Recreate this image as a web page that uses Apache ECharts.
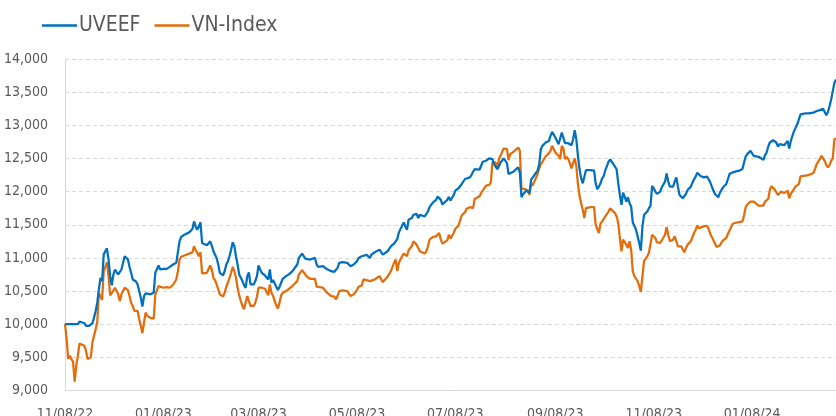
<!DOCTYPE html>
<html>
<head>
<meta charset="utf-8">
<script src="https://cdn.jsdelivr.net/npm/echarts@6/dist/echarts.min.js"></script>
<style>
html,body{margin:0;padding:0;background:#fff;}
#chart{width:836px;height:416px;}
</style>
</head>
<body>
<div id="chart"></div>
<script>
const seriesNames = ['UVEEF', 'VN-Index'];

const dates = [
'2022-11-08','2022-11-09','2022-11-10','2022-11-11','2022-11-12','2022-11-13','2022-11-14','2022-11-15','2022-11-16','2022-11-17','2022-11-18','2022-11-20','2022-11-21','2022-11-22','2022-11-23','2022-11-24','2022-11-25','2022-11-26','2022-11-27','2022-11-28','2022-11-29','2022-11-30',
'2022-12-01','2022-12-02','2022-12-03','2022-12-04','2022-12-05','2022-12-06','2022-12-07','2022-12-08','2022-12-09','2022-12-10','2022-12-11','2022-12-12','2022-12-13','2022-12-14','2022-12-15','2022-12-16','2022-12-17','2022-12-18','2022-12-19','2022-12-20','2022-12-21','2022-12-22','2022-12-23','2022-12-24','2022-12-25','2022-12-26','2022-12-27','2022-12-28','2022-12-29','2022-12-31',
'2023-01-01','2023-01-02','2023-01-03','2023-01-04','2023-01-05','2023-01-06','2023-01-08','2023-01-09','2023-01-10','2023-01-12','2023-01-14','2023-01-16','2023-01-17','2023-01-18','2023-01-19','2023-01-21','2023-01-24','2023-01-25','2023-01-26','2023-01-27','2023-01-28','2023-01-29','2023-01-30','2023-01-31',
'2023-02-01','2023-02-02','2023-02-04','2023-02-05','2023-02-06','2023-02-07','2023-02-08','2023-02-09','2023-02-10','2023-02-11','2023-02-12','2023-02-14','2023-02-15','2023-02-16','2023-02-17','2023-02-18','2023-02-19','2023-02-20','2023-02-21','2023-02-22','2023-02-23','2023-02-24','2023-02-25','2023-02-26','2023-02-27','2023-02-28',
'2023-03-01','2023-03-02','2023-03-03','2023-03-04','2023-03-05','2023-03-06','2023-03-07','2023-03-08','2023-03-09','2023-03-10','2023-03-11','2023-03-12','2023-03-13','2023-03-14','2023-03-15','2023-03-16','2023-03-17','2023-03-18','2023-03-19','2023-03-20','2023-03-21','2023-03-22','2023-03-23','2023-03-25','2023-03-27','2023-03-29',
'2023-04-01','2023-04-02','2023-04-04','2023-04-06','2023-04-07','2023-04-09','2023-04-10','2023-04-12','2023-04-13','2023-04-14','2023-04-15','2023-04-17','2023-04-19','2023-04-20','2023-04-22','2023-04-24','2023-04-25','2023-04-26','2023-04-27','2023-04-29',
'2023-05-02','2023-05-04','2023-05-05','2023-05-06','2023-05-08','2023-05-09','2023-05-11','2023-05-12','2023-05-14','2023-05-15','2023-05-16','2023-05-17','2023-05-19','2023-05-22','2023-05-23','2023-05-24','2023-05-25','2023-05-27','2023-05-29','2023-05-31',
'2023-06-01','2023-06-02','2023-06-03','2023-06-04','2023-06-05','2023-06-06','2023-06-07','2023-06-08','2023-06-09','2023-06-11','2023-06-12','2023-06-14','2023-06-15','2023-06-16','2023-06-17','2023-06-19','2023-06-20','2023-06-21','2023-06-22','2023-06-24','2023-06-26','2023-06-27','2023-06-28','2023-06-29','2023-06-30',
'2023-07-01','2023-07-03','2023-07-04','2023-07-05','2023-07-07','2023-07-08','2023-07-10','2023-07-11','2023-07-12','2023-07-14','2023-07-15','2023-07-17','2023-07-18','2023-07-19','2023-07-20','2023-07-21','2023-07-23','2023-07-24','2023-07-25','2023-07-26','2023-07-27','2023-07-28','2023-07-29','2023-07-30','2023-07-31',
'2023-08-01','2023-08-02','2023-08-03','2023-08-04','2023-08-05','2023-08-06','2023-08-07','2023-08-08','2023-08-09','2023-08-10','2023-08-11','2023-08-13','2023-08-14','2023-08-16','2023-08-17','2023-08-18','2023-08-19','2023-08-20','2023-08-21','2023-08-22','2023-08-23','2023-08-24','2023-08-25','2023-08-26','2023-08-28','2023-08-29','2023-08-30','2023-08-31',
'2023-09-01','2023-09-02','2023-09-04','2023-09-05','2023-09-06','2023-09-07','2023-09-08','2023-09-10','2023-09-11','2023-09-12','2023-09-13','2023-09-14','2023-09-15','2023-09-16','2023-09-17','2023-09-18','2023-09-19','2023-09-20','2023-09-21','2023-09-22','2023-09-23','2023-09-24','2023-09-25','2023-09-26','2023-09-27','2023-09-28','2023-09-30',
'2023-10-02','2023-10-03','2023-10-04','2023-10-05','2023-10-06','2023-10-07','2023-10-08','2023-10-09','2023-10-11','2023-10-12','2023-10-13','2023-10-15','2023-10-16','2023-10-17','2023-10-18','2023-10-19','2023-10-20','2023-10-21','2023-10-22','2023-10-23','2023-10-24','2023-10-25','2023-10-26','2023-10-27','2023-10-28','2023-10-29','2023-10-30','2023-10-31',
'2023-11-01','2023-11-02','2023-11-03','2023-11-04','2023-11-05','2023-11-06','2023-11-07','2023-11-08','2023-11-09','2023-11-10','2023-11-12','2023-11-13','2023-11-15','2023-11-16','2023-11-17','2023-11-18','2023-11-19','2023-11-20','2023-11-21','2023-11-22','2023-11-23','2023-11-24','2023-11-25','2023-11-26','2023-11-27','2023-11-28','2023-11-29','2023-11-30',
'2023-12-01','2023-12-02','2023-12-03','2023-12-04','2023-12-05','2023-12-06','2023-12-07','2023-12-09','2023-12-10','2023-12-11','2023-12-12','2023-12-13','2023-12-15','2023-12-16','2023-12-17','2023-12-18','2023-12-19','2023-12-20','2023-12-21','2023-12-22','2023-12-23','2023-12-24','2023-12-25','2023-12-26','2023-12-27','2023-12-28','2023-12-29','2023-12-31',
'2024-01-02','2024-01-03','2024-01-04','2024-01-05','2024-01-06','2024-01-07','2024-01-08','2024-01-09','2024-01-10','2024-01-12','2024-01-13','2024-01-15','2024-01-16','2024-01-17','2024-01-18','2024-01-19','2024-01-20','2024-01-21','2024-01-22','2024-01-23','2024-01-24','2024-01-25','2024-01-26','2024-01-28','2024-01-29','2024-01-30','2024-01-31',
'2024-02-01','2024-02-02','2024-02-03','2024-02-04','2024-02-05','2024-02-06','2024-02-07','2024-02-08','2024-02-10','2024-02-12','2024-02-15','2024-02-16','2024-02-17','2024-02-19','2024-02-20','2024-02-21','2024-02-22','2024-02-23','2024-02-24','2024-02-25','2024-02-26','2024-02-27','2024-02-28','2024-02-29'
];

const uveef = [
10000,10000,10000,10000,10000,10000,10000,10000,10000,10040,10035,10015,9975,9955,9975,10000,10015,10100,10200,10325,10525,10700,
10650,11050,11100,11145,10975,10725,10585,10750,10825,10785,10750,10725,10825,10850,11025,11035,10975,10865,10775,10675,10665,10645,10600,10500,10400,10265,10425,10465,10450,10450,
10460,10475,10775,10785,10885,10825,10835,10835,10835,10865,10900,10925,10950,11250,11315,11350,11385,11400,11435,11550,11475,11425,11400,11535,
11225,11210,11190,11180,11250,11185,11100,11075,11000,10900,10775,10735,10800,10900,10950,11025,11125,11235,11175,11025,10900,10750,10700,10650,10585,10550,
10725,10780,10600,10600,10600,10650,10725,10885,10825,10775,10765,10735,10715,10675,10825,10625,10665,10635,10565,10515,10565,10625,10685,10725,10755,10800,
10900,11000,11065,10990,10975,10975,11000,11000,10900,10865,10885,10875,10835,10815,10800,10790,10775,10850,10925,10935,
10925,10875,10850,10900,10950,11000,11025,11035,11045,11075,11000,11050,11085,11125,11125,11050,11045,11100,11175,11215,
11250,11285,11385,11415,11485,11535,11475,11425,11575,11600,11650,11665,11600,11650,11675,11625,11650,11700,11765,11835,11875,11925,11950,11875,11805,
11805,11875,11920,11865,11950,12015,12050,12065,12115,12190,12215,12215,12250,12300,12340,12350,12330,12390,12450,12430,12465,12490,12500,12500,12490,
12415,12390,12340,12380,12440,12465,12500,12505,12430,12265,12280,12300,12330,12365,12290,11915,11960,11990,12015,12040,11980,12180,12200,12250,12315,12415,12640,12690,
12715,12740,12765,12840,12900,12900,12815,12715,12740,12890,12865,12730,12740,12730,12715,12700,12790,12925,12790,12540,12340,12200,12125,12100,12325,12335,12325,
12315,12125,12035,12075,12125,12200,12235,12325,12450,12485,12465,12375,12335,12125,11950,11800,11985,11925,11850,11915,11825,11775,11535,11485,11425,11325,11225,11110,
11475,11650,11650,11700,11750,11785,12085,12050,12000,11965,12000,12065,12150,12275,12150,12075,12050,12075,12150,12215,12075,11950,11935,11900,11875,11965,12025,12000,
12075,12135,12185,12225,12285,12265,12235,12215,12200,12225,12190,12140,12015,11965,11940,11915,11980,12025,12065,12065,12115,12190,12265,12280,12290,12315,12305,12315,
12340,12440,12530,12565,12590,12615,12590,12540,12540,12525,12505,12480,12550,12590,12680,12740,12765,12775,12780,12740,12680,12715,12715,12700,12715,12765,12650,
12765,12840,12915,12965,13015,13040,13165,13180,13180,13180,13190,13215,13215,13230,13215,13250,13240,13150,13200,13290,13390,13515,13640,13690
];

const vnIndex = [
10000,9775,9475,9525,9475,9435,9135,9375,9525,9710,9700,9675,9600,9475,9465,9500,9725,9825,9925,10025,10475,10500,
10365,10800,10865,10935,10725,10435,10470,10500,10550,10525,10450,10350,10450,10500,10550,10535,10515,10425,10325,10275,10200,10215,10200,10075,9975,9865,10025,10175,10125,10095,
10085,10085,10450,10450,10575,10550,10550,10550,10560,10550,10595,10675,10800,10975,11015,11035,11065,11075,11085,11175,11115,11075,11025,11085,
10765,10775,10775,10785,10885,10825,10700,10665,10600,10525,10450,10415,10475,10565,10625,10700,10775,10865,10800,10700,10550,10435,10350,10275,10225,10215,
10425,10400,10275,10265,10275,10325,10415,10550,10550,10550,10550,10535,10525,10435,10600,10475,10425,10350,10285,10235,10325,10435,10475,10500,10535,10575,
10650,10750,10815,10750,10715,10685,10700,10685,10565,10550,10560,10550,10485,10475,10425,10415,10375,10425,10500,10510,
10500,10425,10400,10450,10515,10565,10585,10675,10665,10650,10650,10665,10675,10725,10700,10635,10645,10715,10800,10925,
10975,10800,10925,10975,11025,11065,11050,11025,11115,11175,11250,11200,11150,11100,11085,11065,11100,11175,11275,11315,11325,11350,11375,11275,11215,
11215,11265,11350,11290,11380,11440,11490,11565,11640,11690,11740,11765,11765,11750,11890,11900,11930,11980,12015,12040,12090,12100,12100,12140,12440,
12415,12440,12340,12490,12540,12600,12650,12665,12640,12475,12565,12600,12600,12665,12615,12040,12050,12040,12050,12015,11950,12130,12090,12150,12265,12350,12415,12450,
12490,12530,12580,12615,12690,12665,12590,12540,12490,12690,12650,12490,12525,12490,12430,12350,12430,12500,12390,12115,11940,11825,11725,11600,11750,11765,11765,
11765,11500,11475,11375,11515,11550,11575,11625,11700,11750,11725,11675,11625,11525,11300,11100,11275,11300,11200,11150,11250,11125,10800,10725,10700,10650,10575,10485,
10725,10950,10965,11025,11075,11100,11350,11375,11300,11235,11225,11225,11350,11465,11350,11250,11240,11275,11325,11350,11175,11150,11175,11125,11085,11150,11200,11185,
11250,11315,11375,11425,11485,11450,11465,11475,11475,11485,11440,11365,11265,11215,11165,11140,11190,11230,11265,11265,11300,11365,11415,11465,11515,11540,11530,11540,
11550,11640,11765,11805,11830,11850,11840,11850,11865,11790,11780,11790,11850,11880,11890,12030,12080,12065,12030,11990,11950,11980,12000,11980,12000,12015,11900,
11965,11990,12040,12075,12105,12115,12230,12240,12240,12250,12280,12340,12415,12490,12540,12540,12465,12400,12365,12400,12465,12500,12790,12800
];

const tickDates = ['2022-11-08','2023-01-08','2023-03-08','2023-05-08','2023-07-08','2023-09-08','2023-11-08','2024-01-08'];
const tickLabels = ['11/08/22','01/08/23','03/08/23','05/08/23','07/08/23','09/08/23','11/08/23','01/08/24'];
const axisStart = '2022-11-08';
const axisEnd = '2024-02-29';

function ts(s) {
  const p = s.split('-').map(Number);
  return Date.UTC(p[0], p[1] - 1, p[2]);
}
const tickTs = tickDates.map(ts);

const FONT = "'Liberation Sans Narrow', 'DejaVu Sans Condensed', 'Liberation Sans', sans-serif";
const chart = echarts.init(document.getElementById('chart'), null, {renderer: 'canvas'});
chart.setOption({
  animation: false,
  backgroundColor: '#ffffff',
  color: ['#0070C0', '#E46C0A'],
  legend: {
    data: seriesNames,
    left: 37,
    top: 10,
    itemWidth: 35,
    itemHeight: 14,
    itemGap: 14,
    icon: 'path://M0,6 L35,6 L35,8.5 L0,8.5 Z',
    textStyle: {fontFamily: FONT, fontSize: 21, color: '#595959', padding: [0, 0, 0, -3]}
  },
  grid: {left: 65, right: 0, top: 59, bottom: 25.5, containLabel: false, outerBoundsMode: 'none'},
  xAxis: {
    type: 'value',
    min: ts(axisStart),
    max: ts(axisEnd),
    axisLine: {show: true, onZero: false, lineStyle: {color: '#d9d9d9', width: 1}},
    axisTick: {show: false},
    splitLine: {show: false},
    axisLabel: {
      customValues: tickTs,
      formatter: function (v) { const i = tickTs.indexOf(v); return i >= 0 ? tickLabels[i] : ''; },
      fontFamily: FONT, fontSize: 14, color: '#595959', margin: 17, hideOverlap: false
    }
  },
  yAxis: {
    type: 'value',
    min: 9000,
    max: 14000,
    interval: 500,
    axisLine: {show: true, lineStyle: {color: '#d9d9d9', width: 1}},
    axisTick: {show: false},
    splitLine: {show: true, lineStyle: {color: '#d9d9d9', width: 1, type: [4, 3]}},
    axisLabel: {
      formatter: function (v) { return v.toLocaleString('en-US'); },
      fontFamily: FONT, fontSize: 14, color: '#595959', margin: 17
    }
  },
  series: [
    {name: seriesNames[0], type: 'line', showSymbol: false, symbol: 'none',
     lineStyle: {width: 2.25, color: '#0070C0'}, data: dates.map((d, i) => [ts(d), uveef[i]]), z: 3},
    {name: seriesNames[1], type: 'line', showSymbol: false, symbol: 'none',
     lineStyle: {width: 2.25, color: '#E46C0A'}, data: dates.map((d, i) => [ts(d), vnIndex[i]]), z: 2}
  ]
});
</script>
</body>
</html>
